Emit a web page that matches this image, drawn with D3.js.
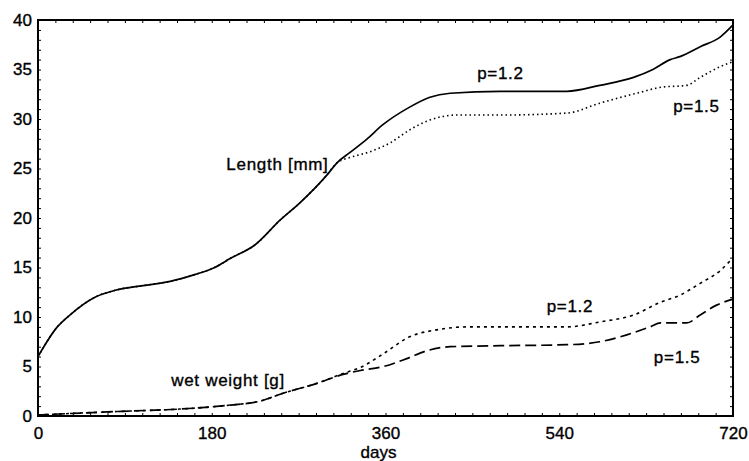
<!DOCTYPE html>
<html>
<head>
<meta charset="utf-8">
<script src="https://cdn.jsdelivr.net/npm/d3@7"></script>
<style>
  body { margin: 0; background: #fff; }
  svg text { font-family: "Liberation Sans", Arial, sans-serif; fill: #000; stroke: #000; stroke-width: 0.35px; }
</style>
</head>
<body>
<div id="chart"></div>
<script>
// Length [mm], p=1.2 (solid)
const lenP12Days = [0, 20, 33, 59, 80, 111, 137, 163, 183, 199, 225, 251, 271, 299, 310, 323, 341, 357, 385, 406, 427, 479, 548, 582, 617, 637, 655, 665, 686, 707, 720];
const lenP12Vals = [6.0, 9.0, 10.2, 12.0, 12.7, 13.2, 13.6, 14.3, 15.0, 15.9, 17.3, 19.8, 21.5, 24.3, 25.6, 26.6, 28.0, 29.4, 31.2, 32.2, 32.6, 32.8, 32.8, 33.4, 34.2, 35.0, 36.0, 36.3, 37.3, 38.3, 39.5];

// Length [mm], p=1.5 (dotted)
const lenP15Days = [0, 20, 33, 59, 80, 111, 137, 163, 183, 199, 225, 251, 271, 299, 310, 323, 344, 365, 385, 406, 434, 479, 548, 582, 624, 645, 672, 686, 707, 720];
const lenP15Vals = [6.0, 9.0, 10.2, 12.0, 12.7, 13.2, 13.6, 14.3, 15.0, 15.9, 17.3, 19.8, 21.5, 24.3, 25.6, 26.1, 26.7, 27.6, 28.9, 29.9, 30.4, 30.4, 30.6, 31.6, 32.7, 33.2, 33.4, 34.2, 35.3, 35.8];

// wet weight [g], p=1.2 (short dash)
const wtP12Days = [0, 44, 95, 147, 199, 230, 254, 289, 316, 334, 358, 385, 413, 444, 479, 548, 582, 617, 645, 665, 686, 707, 720];
const wtP12Vals = [0.1, 0.3, 0.5, 0.7, 1.1, 1.5, 2.3, 3.3, 4.3, 4.9, 6.3, 8.0, 8.7, 9.0, 9.0, 9.0, 9.5, 10.2, 11.5, 12.2, 13.4, 14.7, 16.0];

// wet weight [g], p=1.5 (long dash)
const wtP15Days = [0, 44, 95, 147, 199, 230, 254, 289, 316, 334, 358, 382, 403, 427, 479, 548, 582, 610, 634, 645, 672, 686, 703, 720];
const wtP15Vals = [0.1, 0.3, 0.5, 0.7, 1.1, 1.5, 2.3, 3.3, 4.2, 4.6, 5.0, 5.8, 6.6, 7.0, 7.1, 7.2, 7.5, 8.2, 9.0, 9.4, 9.4, 10.2, 11.2, 11.8];

const xTicks = [0, 180, 360, 540, 720];
const yTicks = [0, 5, 10, 15, 20, 25, 30, 35, 40];

const zip = (xs, ys) => xs.map((d, i) => ({ day: d, value: ys[i] }));

const margin = { top: 20, right: 16, bottom: 45, left: 38 },
    width = 749 - margin.left - margin.right,
    height = 461 - margin.top - margin.bottom;

const svg = d3.select("#chart")
    .append("svg")
        .attr("width", width + margin.left + margin.right)
        .attr("height", height + margin.top + margin.bottom)
    .append("g")
        .attr("transform", `translate(${margin.left},${margin.top})`);

const x = d3.scaleLinear().domain([0, 720]).range([0, width]);
const y = d3.scaleLinear().domain([0, 40]).range([height, 0]);

// minor ticks on all four sides, pointing inward
const xMinor = d3.range(0, 721, 18);
const yMinor = d3.range(0, 41, 1);

svg.append("g")
    .attr("transform", `translate(0,${height})`)
    .call(d3.axisTop(x).tickValues(xMinor).tickSize(3).tickFormat(""))
    .call(g => g.select(".domain").remove());
svg.append("g")
    .call(d3.axisBottom(x).tickValues(xMinor).tickSize(3).tickFormat(""))
    .call(g => g.select(".domain").remove());
svg.append("g")
    .call(d3.axisRight(y).tickValues(yMinor).tickSize(3).tickFormat(""))
    .call(g => g.select(".domain").remove());
svg.append("g")
    .attr("transform", `translate(${width},0)`)
    .call(d3.axisLeft(y).tickValues(yMinor).tickSize(3).tickFormat(""))
    .call(g => g.select(".domain").remove());

// labelled axes
const xAxisGroup = svg.append("g")
    .attr("transform", `translate(0,${height})`)
    .call(d3.axisBottom(x).tickValues(xTicks).tickSize(0).tickPadding(11));
xAxisGroup.select(".domain").remove();
xAxisGroup.selectAll("text").style("font-size", "17px");

const yAxisGroup = svg.append("g")
    .call(d3.axisLeft(y).tickValues(yTicks).tickSize(0).tickPadding(6));
yAxisGroup.select(".domain").remove();
yAxisGroup.selectAll("text").style("font-size", "17px");

svg.append("text")
    .attr("x", width / 2 - 7)
    .attr("y", height + 42)
    .attr("text-anchor", "middle")
    .style("font-size", "17px")
    .text("days");

// frame
svg.append("rect")
    .attr("width", width)
    .attr("height", height)
    .attr("fill", "none")
    .attr("stroke", "#000")
    .attr("stroke-width", 2);

const line = d3.line()
    .x(d => x(d.day))
    .y(d => y(d.value))
    .curve(d3.curveMonotoneX);

const series = [
    { data: zip(lenP15Days, lenP15Vals), dash: "1.5,3", width: 1.6 },
    { data: zip(lenP12Days, lenP12Vals), dash: null, width: 1.7 },
    { data: zip(wtP12Days, wtP12Vals), dash: "3,4", width: 1.6 },
    { data: zip(wtP15Days, wtP15Vals), dash: "11,5", width: 1.7 }
];

series.forEach(s => {
    svg.append("path")
        .datum(s.data)
        .attr("fill", "none")
        .attr("stroke", "#000")
        .attr("stroke-width", s.width)
        .attr("stroke-dasharray", s.dash)
        .attr("d", line);
});

// annotations
const notes = [
    { label: "Length [mm]", day: 301, value: 24.8, anchor: "end" },
    { label: "p=1.2", day: 455, value: 34.0, anchor: "start" },
    { label: "p=1.5", day: 658, value: 30.7, anchor: "start" },
    { label: "wet weight [g]", day: 138, value: 3.0, anchor: "start" },
    { label: "p=1.2", day: 527, value: 10.5, anchor: "start" },
    { label: "p=1.5", day: 638, value: 5.4, anchor: "start" }
];

svg.selectAll(".note")
    .data(notes)
    .enter().append("text")
    .attr("class", "note")
    .attr("x", d => x(d.day))
    .attr("y", d => y(d.value))
    .attr("text-anchor", d => d.anchor)
    .style("font-size", "17px")
    .style("letter-spacing", "0.7px")
    .text(d => d.label);
</script>
</body>
</html>
